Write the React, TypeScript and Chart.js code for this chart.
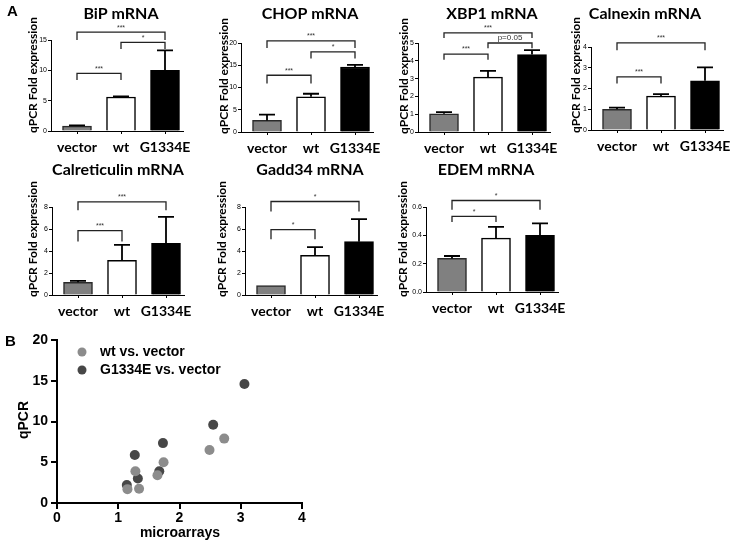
import React, { useEffect, useRef } from 'react';
import { Chart, registerables } from 'chart.js';
Chart.register(...registerables);

// ---------- data ----------
const categories = ['vector', 'wt', 'G1334E'];
const yAxisTitle = 'qPCR Fold expression';

const bipMean = [0.8, 5.6, 10.0];
const bipErr = [0.12, 0.1, 3.3];
const bipBrackets: [number, number, number, number, string][] = [[1, 3, 16.3, 15.0, '***'], [2, 3, 14.6, 13.5, '*'], [1, 2, 9.5, 8.4, '***']];

const chopMean = [2.6, 7.9, 14.6];
const chopErr = [1.3, 0.7, 0.5];
const chopBrackets: [number, number, number, number, string][] = [[1, 3, 20.5, 18.9, '***'], [2, 3, 18.0, 16.5, '*'], [1, 2, 12.75, 10.9, '***']];

const xbp1Mean = [1.02, 3.08, 4.35];
const xbp1Err = [0.1, 0.35, 0.25];
const xbp1Brackets: [number, number, number, number, string][] = [[1, 3, 5.57, 5.28, '***'], [2, 3, 5.0, 4.7, 'p=0.05'], [1, 2, 4.38, 4.06, '***']];

const calnexinMean = [1.0, 1.63, 2.37];
const calnexinErr = [0.08, 0.1, 0.65];
const calnexinBrackets: [number, number, number, number, string][] = [[1, 3, 4.2, 3.84, '***'], [1, 2, 2.56, 2.24, '***']];

const calretMean = [1.16, 3.15, 4.7];
const calretErr = [0.12, 1.4, 2.4];
const calretBrackets: [number, number, number, number, string][] = [[1, 3, 8.47, 7.7, '***'], [1, 2, 5.86, 4.86, '***']];

const gaddMean = [0.85, 3.6, 4.85];
const gaddErr = [0, 0.75, 2.05];
const gaddBrackets: [number, number, number, number, string][] = [[1, 3, 8.5, 7.6, '*'], [1, 2, 5.95, 5.06, '*']];

const edemMean = [0.237, 0.38, 0.4];
const edemErr = [0.017, 0.08, 0.085];
const edemBrackets: [number, number, number, number, string][] = [[1, 3, 0.646, 0.58, '*'], [1, 2, 0.534, 0.495, '*']];

const wtX = [1.15, 1.28, 1.34, 1.64, 1.74, 2.49, 2.73];
const wtY = [1.7, 3.9, 1.75, 3.4, 5.0, 6.5, 7.9];
const gX = [1.14, 1.27, 1.32, 1.67, 1.73, 2.55, 3.06];
const gY = [2.2, 5.9, 3.0, 3.9, 7.35, 9.6, 14.6];
const scatterLabels = ['wt vs. vector', 'G1334E vs. vector'];

// ---------- styles ----------
const barFill = ['#808080', '#ffffff', '#000000'];
const barEdge = ['#2a2a2a', '#000000', '#000000'];
const TITLE_FONT = 'bold 16px Lato';
const YLABEL_FONT = 'bold 12px Lato';

type Panel = {
  title: string; mean: number[]; err: number[]; brackets: [number, number, number, number, string][];
  yMax: number; yStep: number; dec: number;
  left: number; top: number; w: number; h: number;
  axisX: number; topY: number; bottomY: number;
  titleX: number; titleY: number; ylabX: number; ylabY: number;
};

const panels: Panel[] = [
  { title: 'BiP mRNA', mean: bipMean, err: bipErr, brackets: bipBrackets, yMax: 15, yStep: 5, dec: 0,
    left: 0, top: 0, w: 200, h: 160, axisX: 51, topY: 40, bottomY: 131, titleX: 121, titleY: 14, ylabX: 33, ylabY: 75 },
  { title: 'CHOP mRNA', mean: chopMean, err: chopErr, brackets: chopBrackets, yMax: 20, yStep: 5, dec: 0,
    left: 185, top: 0, w: 200, h: 160, axisX: 241, topY: 43, bottomY: 132, titleX: 310, titleY: 14, ylabX: 224, ylabY: 76 },
  { title: 'XBP1 mRNA', mean: xbp1Mean, err: xbp1Err, brackets: xbp1Brackets, yMax: 5, yStep: 1, dec: 0,
    left: 365, top: 0, w: 200, h: 160, axisX: 418, topY: 43, bottomY: 132, titleX: 492, titleY: 14, ylabX: 404, ylabY: 76 },
  { title: 'Calnexin mRNA', mean: calnexinMean, err: calnexinErr, brackets: calnexinBrackets, yMax: 4, yStep: 1, dec: 0,
    left: 545, top: 0, w: 186, h: 160, axisX: 591, topY: 47, bottomY: 130, titleX: 645, titleY: 14, ylabX: 576, ylabY: 75 },
  { title: 'Calreticulin mRNA', mean: calretMean, err: calretErr, brackets: calretBrackets, yMax: 8, yStep: 2, dec: 0,
    left: 0, top: 150, w: 200, h: 170, axisX: 52, topY: 207, bottomY: 295, titleX: 118, titleY: 170, ylabX: 33, ylabY: 239 },
  { title: 'Gadd34 mRNA', mean: gaddMean, err: gaddErr, brackets: gaddBrackets, yMax: 8, yStep: 2, dec: 0,
    left: 185, top: 150, w: 200, h: 170, axisX: 245, topY: 207, bottomY: 295, titleX: 310, titleY: 170, ylabX: 222, ylabY: 239 },
  { title: 'EDEM mRNA', mean: edemMean, err: edemErr, brackets: edemBrackets, yMax: 0.6, yStep: 0.2, dec: 1,
    left: 365, top: 150, w: 200, h: 170, axisX: 426, topY: 207, bottomY: 292, titleX: 486, titleY: 170, ylabX: 403, ylabY: 239 },
];

function BarPanel({ p }: { p: Panel }) {
  const ref = useRef<HTMLCanvasElement>(null);
  useEffect(() => {
    const canvas = ref.current!;
    const spacing = 44, leftGap = 26, rightGap = 18.5, yScaleW = 20, xScaleH = 30;
    const axisC = p.axisX - p.left;
    const chartW = leftGap + 2 * spacing + rightGap;
    const padding = {
      left: axisC - yScaleW,
      top: p.topY - p.top,
      right: p.w - axisC - chartW,
      bottom: p.h - (p.bottomY - p.top) - xScaleH,
    };
    const overlay = {
      id: 'overlay',
      afterDatasetsDraw(chart: any) {
        const ctx = chart.ctx as CanvasRenderingContext2D;
        const xs = chart.scales.x, ys = chart.scales.y;
        ctx.save();
        ctx.strokeStyle = '#000';
        ctx.fillStyle = '#000';
        ctx.lineWidth = 1.8;
        p.mean.forEach((m, i) => {
          const e = p.err[i];
          if (!e) return;
          const x = xs.getPixelForValue(i);
          const y0 = ys.getPixelForValue(m);
          const y1 = ys.getPixelForValue(m + e);
          ctx.beginPath();
          ctx.moveTo(x, y0); ctx.lineTo(x, y1);
          ctx.moveTo(x - 8, y1); ctx.lineTo(x + 8, y1);
          ctx.stroke();
        });
        ctx.lineWidth = 1.3;
        ctx.strokeStyle = '#222';
        p.brackets.forEach(([a, b, yl, yd, label]) => {
          const xa = xs.getPixelForValue(a - 1), xb = xs.getPixelForValue(b - 1);
          const py = ys.getPixelForValue(yl), pd = ys.getPixelForValue(yd);
          ctx.beginPath();
          ctx.moveTo(xa, pd); ctx.lineTo(xa, py); ctx.lineTo(xb, py); ctx.lineTo(xb, pd);
          ctx.stroke();
          ctx.fillStyle = '#333';
          ctx.font = label.length > 3 ? '8px "Liberation Sans"' : '7px "Liberation Sans"';
          ctx.textAlign = 'center';
          ctx.textBaseline = 'bottom';
          ctx.fillText(label, (xa + xb) / 2, py - 1);
        });
        ctx.fillStyle = '#000';
        ctx.font = TITLE_FONT;
        ctx.textAlign = 'center';
        ctx.textBaseline = 'middle';
        ctx.fillText(p.title, p.titleX - p.left, p.titleY - p.top);
        ctx.translate(p.ylabX - p.left, p.ylabY - p.top);
        ctx.rotate(-Math.PI / 2);
        ctx.font = YLABEL_FONT;
        ctx.fillText(yAxisTitle, 0, 0);
        ctx.restore();
      },
    };
    const chart = new Chart(canvas, {
      type: 'bar',
      data: {
        labels: categories,
        datasets: [{
          data: p.mean,
          backgroundColor: barFill,
          borderColor: barEdge,
          borderWidth: 1.5,
          barThickness: 29,
        }],
      },
      options: {
        animation: false,
        responsive: false,
        devicePixelRatio: 1,
        layout: { padding },
        plugins: { legend: { display: false }, tooltip: { enabled: false }, title: { display: false } },
        scales: {
          x: {
            type: 'category', offset: true,
            afterBuildTicks: (s: any) => {
              // GraphPad-style spacing: wider gap before the first category
              s._startValue = -leftGap / spacing;
              s._valueRange = chartW / spacing;
            },
            afterFit: (s: any) => { s.height = xScaleH; s.paddingLeft = 0; s.paddingRight = 0; },
            ticks: {
              font: { family: 'Lato', weight: 'bold', size: 14 },
              color: '#000', padding: 5, maxRotation: 0, autoSkip: false,
            },
            grid: { offset: false, drawOnChartArea: false, drawTicks: true, tickLength: 3, color: '#000' },
            border: { color: '#000', width: 1 },
          },
          y: {
            min: 0, max: p.yMax,
            afterFit: (s: any) => { s.width = yScaleW; s.paddingTop = 0; s.paddingBottom = 0; },
            ticks: {
              stepSize: p.yStep,
              callback: (v: any) => Number(v).toFixed(p.dec),
              font: { family: 'Liberation Sans', size: 7 },
              color: '#000', padding: 1,
            },
            grid: { drawOnChartArea: false, drawTicks: true, tickLength: 3, color: '#000' },
            border: { color: '#000', width: 1 },
          },
        },
      },
      plugins: [overlay],
    } as any);
    return () => chart.destroy();
  }, [p]);
  return (
    <canvas ref={ref} width={p.w} height={p.h}
      style={{ position: 'absolute', left: p.left, top: p.top, width: p.w, height: p.h }} />
  );
}

function ScatterPanel() {
  const ref = useRef<HTMLCanvasElement>(null);
  const L = 0, T = 320, W = 330, H = 222;
  useEffect(() => {
    const canvas = ref.current!;
    const yScaleW = 50, xScaleH = 30;
    const areaL = 57, areaR = 302, areaT = 340 - T, areaB = 503 - T;
    const padding = { left: areaL - yScaleW, top: areaT, right: W - areaR, bottom: H - areaB - xScaleH };
    const colors = ['#8c8c8c', '#474747'];
    const overlay = {
      id: 'overlay2',
      afterDraw(chart: any) {
        const ctx = chart.ctx as CanvasRenderingContext2D;
        ctx.save();
        ctx.font = 'bold 14px "Liberation Sans"';
        ctx.textBaseline = 'middle';
        scatterLabels.forEach((lab, i) => {
          const y = (i === 0 ? 352 : 370) - T;
          ctx.fillStyle = colors[i];
          ctx.beginPath(); ctx.arc(82, y, 4.5, 0, Math.PI * 2); ctx.fill();
          ctx.fillStyle = '#000';
          ctx.textAlign = 'left';
          ctx.fillText(lab, 100, y);
        });
        ctx.textAlign = 'center';
        ctx.fillText('microarrays', 180, 533 - T);
        ctx.translate(24, 420 - T);
        ctx.rotate(-Math.PI / 2);
        ctx.fillText('qPCR', 0, 0);
        ctx.restore();
      },
    };
    const chart = new Chart(canvas, {
      type: 'scatter',
      data: {
        datasets: [
          { label: scatterLabels[0], data: wtX.map((x, i) => ({ x, y: wtY[i] })), backgroundColor: colors[0], borderWidth: 0, pointRadius: 5 },
          { label: scatterLabels[1], data: gX.map((x, i) => ({ x, y: gY[i] })), backgroundColor: colors[1], borderWidth: 0, pointRadius: 5 },
        ],
      },
      options: {
        animation: false,
        responsive: false,
        devicePixelRatio: 1,
        layout: { padding },
        plugins: { legend: { display: false }, tooltip: { enabled: false } },
        scales: {
          x: {
            type: 'linear', min: 0, max: 4,
            afterFit: (s: any) => { s.height = xScaleH; s.paddingLeft = 0; s.paddingRight = 0; },
            ticks: { stepSize: 1, font: { family: 'Liberation Sans', weight: 'bold', size: 14 }, color: '#000', padding: 1 },
            grid: { drawOnChartArea: false, drawTicks: true, tickLength: 6, color: '#000', lineWidth: 2 },
            border: { color: '#000', width: 2 },
          },
          y: {
            min: 0, max: 20,
            afterFit: (s: any) => { s.width = yScaleW; s.paddingTop = 0; s.paddingBottom = 0; },
            ticks: { stepSize: 5, font: { family: 'Liberation Sans', weight: 'bold', size: 14 }, color: '#000', padding: 3 },
            grid: { drawOnChartArea: false, drawTicks: true, tickLength: 6, color: '#000', lineWidth: 2 },
            border: { color: '#000', width: 2 },
          },
        },
      },
      plugins: [overlay],
    } as any);
    return () => chart.destroy();
  }, []);
  return (
    <canvas ref={ref} width={W} height={H}
      style={{ position: 'absolute', left: L, top: T, width: W, height: H }} />
  );
}

export default function App() {
  return (
    <div style={{ position: 'absolute', left: 0, top: 0, width: 731, height: 542, background: '#fff', overflow: 'hidden' }}>
      {panels.map((p) => <BarPanel key={p.title} p={p} />)}
      <ScatterPanel />
      <div style={{ position: 'absolute', left: 7, top: 2, font: 'bold 15px "Liberation Sans"', color: '#000' }}>A</div>
      <div style={{ position: 'absolute', left: 5, top: 332, font: 'bold 15px "Liberation Sans"', color: '#000' }}>B</div>
    </div>
  );
}
